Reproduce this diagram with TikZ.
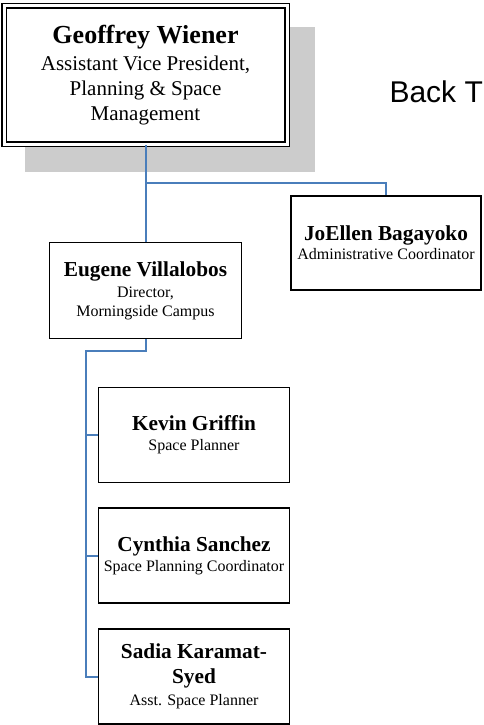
\documentclass[tikz,border=0pt]{standalone}
\usepackage{fontspec}
\setmainfont{Liberation Serif}
\newfontfamily\linkfont{Liberation Sans}
\usetikzlibrary{positioning}
\definecolor{linkblue}{RGB}{74,126,187}
\definecolor{shadowgray}{RGB}{204,204,204}

\newcommand{\whofont}{\fontsize{21.3}{25}\selectfont\bfseries}
\newcommand{\rolefont}{\fontsize{16}{19}\selectfont}

\begin{document}
\begin{tikzpicture}[x=1pt, y=-1pt, node distance=24pt]
      % styles
      \tikzstyle{box}=[rectangle,draw,line width=1.8pt,align=center,font=\rolefont,
                       inner sep=2pt,minimum width=191pt,minimum height=95pt,fill=white]
      \tikzstyle{topbox}=[box,double,double distance=3pt,line width=1.7pt,
                          font=\fontsize{21}{25}\selectfont,
                          minimum width=283pt,minimum height=138pt]
      \tikzstyle{link}=[linkblue,line width=2pt]

      \useasboundingbox (0,0) rectangle (484,725);

      % shadow behind the top box
      \fill[shadowgray] (25,27) rectangle (315,172);

      % nodes
      \node[topbox] (wiener) at (145.5,75)
            {\fontsize{26}{27}\selectfont\bfseries Geoffrey Wiener\\[2pt]
             Assistant Vice President,\\ Planning \& Space\\ Management};
      \node[box,minimum width=190pt,minimum height=94pt] (bagayoko) at (386,243)
            {\whofont JoEllen Bagayoko\\ Administrative Coordinator};
      \node[box,minimum width=192pt,minimum height=96pt] (villalobos) at (145.5,290.5)
            {\whofont Eugene Villalobos\\[2pt] Director,\\ Morningside Campus};
      \node[box] (griffin) at (194,435)
            {\whofont Kevin Griffin\\[1pt] Space Planner};
      \node[box,below=of griffin] (sanchez)
            {\whofont Cynthia Sanchez\\[1pt] Space Planning Coordinator};
      \node[box,below=of sanchez] (karamat)
            {\whofont Sadia Karamat-\\[6pt] \whofont Syed\\[3pt] Asst. Space Planner};

      \node[anchor=base west,font=\linkfont\fontsize{30}{32}\selectfont]
            (back) at (386,102) {Back T};

      % connectors
      \coordinate (split) at (145.5,183);
      \coordinate (spine) at (86,351);
      \draw[link] (wiener.south) -- (villalobos.north);
      \draw[link] (split) -| (bagayoko.north);
      \draw[link] (villalobos.south) |- (spine) -- (spine |- karamat.west) -- (karamat.west);
      \draw[link] (spine |- griffin.west) -- (griffin.west);
      \draw[link] (spine |- sanchez.west) -- (sanchez.west);
\end{tikzpicture}
\end{document}
